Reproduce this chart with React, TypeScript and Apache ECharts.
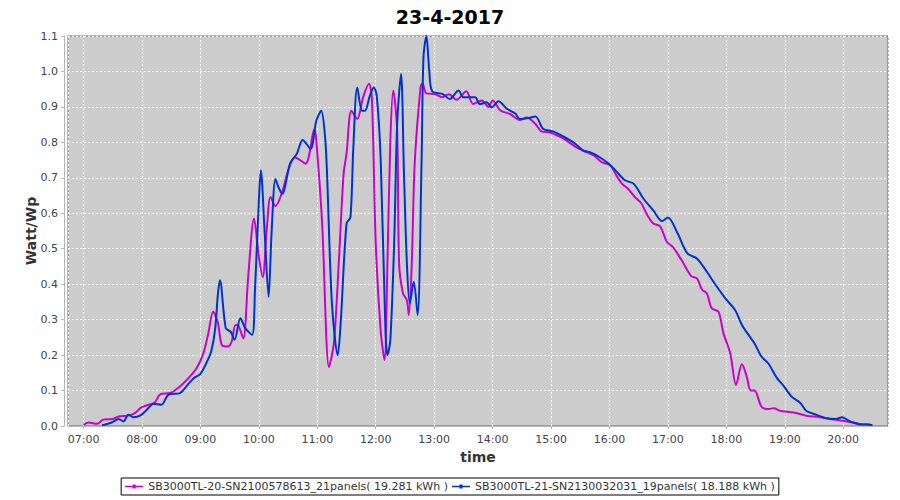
import React, { useEffect, useRef } from "react";
import * as echarts from "echarts";

const titleText = "23-4-2017";
const xName = "time";
const yName = "Watt/Wp";
const seriesNames = [
  "SB3000TL-20-SN2100578613_21panels( 19.281 kWh )",
  "SB3000TL-21-SN2130032031_19panels( 18.188 kWh )",
];
const seriesColors = ["#cc00cc", "#0033cc"];

const magentaTimes = [
  "07:00","07:05","07:14","07:20","07:30","07:36","07:47","07:53","07:59","08:07",
  "08:13","08:19","08:29","08:37","08:46","08:56","09:03","09:08","09:13","09:18",
  "09:22","09:28","09:32","09:36","09:39","09:44","09:49","09:55","10:00","10:04",
  "10:08","10:12","10:17","10:24","10:30","10:37","10:48","10:57","10:59","11:05",
  "11:12","11:17","11:22","11:27","11:30","11:35","11:41","11:47","11:53","11:56",
  "12:00","12:05","12:09","12:12","12:15","12:18","12:22","12:24","12:28","12:32",
  "12:34","12:37","12:40","12:46","12:48","12:52","13:01","13:08","13:15","13:23",
  "13:33","13:40","13:49","13:56","14:00","14:08","14:18","14:28","14:35","14:44",
  "14:50","14:59","15:09","15:16","15:26","15:33","15:44","15:52","16:01","16:07",
  "16:13","16:19","16:26","16:33","16:38","16:45","16:52","16:59","17:05","17:14",
  "17:24","17:30","17:35","17:40","17:45","17:52","17:57","18:04","18:10","18:16",
  "18:21","18:25","18:29","18:36","18:43","18:49","18:55","19:09","19:22","19:36",
  "19:50","20:04","20:17","20:28",
];
const magentaValues = [
  0.003,0.01,0.006,0.018,0.02,0.027,0.03,0.037,0.052,0.06,
  0.066,0.09,0.093,0.107,0.13,0.163,0.205,0.26,0.322,0.29,
  0.228,0.224,0.238,0.285,0.283,0.247,0.42,0.585,0.477,0.42,
  0.552,0.646,0.62,0.66,0.72,0.758,0.74,0.838,0.805,0.57,
  0.166,0.233,0.458,0.711,0.768,0.889,0.866,0.927,0.965,0.927,
  0.515,0.271,0.186,0.458,0.805,0.946,0.833,0.458,0.374,0.355,
  0.313,0.459,0.74,0.955,0.967,0.938,0.936,0.927,0.936,0.92,
  0.944,0.908,0.918,0.9,0.918,0.89,0.88,0.863,0.87,0.852,
  0.831,0.828,0.816,0.805,0.786,0.777,0.763,0.744,0.735,0.707,
  0.683,0.669,0.646,0.627,0.599,0.571,0.563,0.519,0.505,0.468,
  0.423,0.416,0.385,0.374,0.332,0.322,0.262,0.205,0.116,0.174,
  0.139,0.1,0.1,0.055,0.048,0.05,0.043,0.038,0.029,0.025,
  0.018,0.013,0.006,0.003,
];

const blueTimes = [
  "07:19","07:29","07:36","07:41","07:46","07:51","07:58","08:05","08:12","08:20",
  "08:27","08:39","08:46","08:53","09:00","09:06","09:11","09:15","09:18","09:20",
  "09:26","09:31","09:35","09:41","09:46","09:53","09:56","10:00","10:02","10:06",
  "10:10","10:13","10:17","10:20","10:24","10:32","10:39","10:45","10:53","10:59",
  "11:04","11:08","11:10","11:15","11:21","11:24","11:30","11:34","11:37","11:41",
  "11:46","11:49","11:54","11:58","12:01","12:05","12:10","12:12","12:15","12:19",
  "12:22","12:26","12:29","12:32","12:35","12:39","12:43","12:47","12:49","12:52",
  "12:55","12:58","13:09","13:16","13:25","13:30","13:42","13:47","13:54","13:59",
  "14:06","14:15","14:23","14:28","14:37","14:44","14:52","15:02","15:13","15:23",
  "15:33","15:40","15:50","15:59","16:06","16:16","16:25","16:35","16:45","16:54",
  "17:00","17:10","17:20","17:30","17:40","17:48","17:59","18:09","18:16","18:24",
  "18:29","18:36","18:43","18:52","18:58","19:07","19:16","19:22","19:32","19:43",
  "19:53","19:59","20:05","20:10","20:18","20:24","20:30",
];
const blueValues = [
  0.002,0.01,0.02,0.013,0.032,0.025,0.029,0.046,0.063,0.06,
  0.088,0.093,0.113,0.135,0.147,0.177,0.21,0.271,0.374,0.411,
  0.276,0.266,0.243,0.304,0.276,0.257,0.383,0.636,0.721,0.543,
  0.364,0.543,0.697,0.674,0.655,0.74,0.768,0.807,0.782,0.861,
  0.889,0.814,0.711,0.346,0.2,0.29,0.571,0.589,0.786,0.955,
  0.889,0.889,0.932,0.955,0.932,0.758,0.266,0.2,0.243,0.524,
  0.852,0.993,0.711,0.458,0.346,0.407,0.313,0.74,1.039,1.1,
  1.0,0.944,0.936,0.922,0.946,0.927,0.927,0.908,0.913,0.899,
  0.916,0.894,0.882,0.866,0.869,0.873,0.838,0.831,0.816,0.8,
  0.777,0.772,0.758,0.74,0.721,0.693,0.683,0.641,0.608,0.578,
  0.588,0.543,0.487,0.472,0.435,0.402,0.36,0.327,0.285,0.252,
  0.233,0.196,0.177,0.135,0.116,0.083,0.065,0.043,0.032,0.022,
  0.02,0.025,0.016,0.01,0.004,0.005,0.002,
];

const xMinTime = "06:44";
const xMaxTime = "20:46";

const toMin = (t: string) => {
  const [h, m] = t.split(":").map(Number);
  return h * 60 + m;
};
const pad = (n: number) => (n < 10 ? "0" + n : "" + n);
const fmtMin = (v: number) => pad(Math.floor(v / 60)) + ":" + pad(Math.round(v % 60));

const FONT = "DejaVu Sans";

export default function App() {
  const ref = useRef<HTMLDivElement>(null);
  useEffect(() => {
    document.body.style.margin = "0";
    if (!ref.current) return;
    const chart = echarts.init(ref.current, undefined, { renderer: "svg" });
    const mk = (times: string[], vals: number[]) => times.map((t, i) => [toMin(t), vals[i]]);
    const legendIcon = "path://M0,1.2H18V2.8H0Z M7.5,0H10.5V4H7.5Z";
    chart.setOption({
      animation: false,
      backgroundColor: "#ffffff",
      title: {
        text: titleText,
        left: "center",
        top: 2,
        textStyle: { fontFamily: FONT, fontSize: 19, fontWeight: "bold", color: "#000" },
      },
      grid: {
        left: 68,
        top: 36,
        width: 820,
        height: 390,
        show: true,
        backgroundColor: "#cccccc",
        borderColor: "#666666",
        borderWidth: 1,
      },
      legend: {
        top: 478,
        left: "center",
        orient: "horizontal",
        borderColor: "#000",
        borderWidth: 1,
        padding: [3, 4],
        itemGap: 4,
        itemWidth: 18,
        itemHeight: 4,
        textStyle: { fontFamily: FONT, fontSize: 11, color: "#333" },
        data: seriesNames.map((n) => ({ name: n, icon: legendIcon })),
      },
      xAxis: {
        type: "value",
        min: toMin(xMinTime),
        max: toMin(xMaxTime),
        minInterval: 60,
        maxInterval: 60,
        offset: 4,
        name: xName,
        nameLocation: "middle",
        nameGap: 20,
        nameTextStyle: { fontFamily: FONT, fontSize: 14, fontWeight: "bold", color: "#333" },
        axisLine: { show: true, lineStyle: { color: "#b8b8b8", width: 1 } },
        axisTick: { show: true, length: 3, lineStyle: { color: "#b8b8b8" } },
        axisLabel: {
          showMinLabel: false,
          showMaxLabel: false,
          margin: 4,
          fontFamily: FONT,
          fontSize: 11,
          color: "#444",
          formatter: (v: number) => fmtMin(v),
        },
        splitLine: { show: true, lineStyle: { color: "#ffffff", type: [2, 2], width: 1 } },
      },
      yAxis: {
        type: "value",
        min: 0,
        max: 1.1,
        interval: 0.1,
        offset: 4,
        name: yName,
        nameLocation: "middle",
        nameGap: 26,
        nameMoveOverlap: false,
        nameTextStyle: { fontFamily: FONT, fontSize: 14, fontWeight: "bold", color: "#333" },
        axisLine: { show: true, lineStyle: { color: "#b8b8b8", width: 1 } },
        axisTick: { show: true, length: 3, lineStyle: { color: "#b8b8b8" } },
        axisLabel: {
          margin: 6,
          fontFamily: FONT,
          fontSize: 11,
          color: "#444",
          formatter: (v: number) => v.toFixed(1),
        },
        splitLine: { show: true, lineStyle: { color: "#ffffff", type: [2, 2], width: 1 } },
      },
      series: [
        {
          type: "line",
          name: seriesNames[0],
          data: mk(magentaTimes, magentaValues),
          smooth: 0.3,
          showSymbol: false,
          lineStyle: { width: 2, color: seriesColors[0] },
          itemStyle: { color: seriesColors[0] },
          z: 2,
        },
        {
          type: "line",
          name: seriesNames[1],
          data: mk(blueTimes, blueValues),
          smooth: 0.3,
          showSymbol: false,
          lineStyle: { width: 2, color: seriesColors[1] },
          itemStyle: { color: seriesColors[1] },
          z: 3,
        },
      ],
    });
    return () => chart.dispose();
  }, []);
  return <div ref={ref} style={{ width: 900, height: 500 }} />;
}
